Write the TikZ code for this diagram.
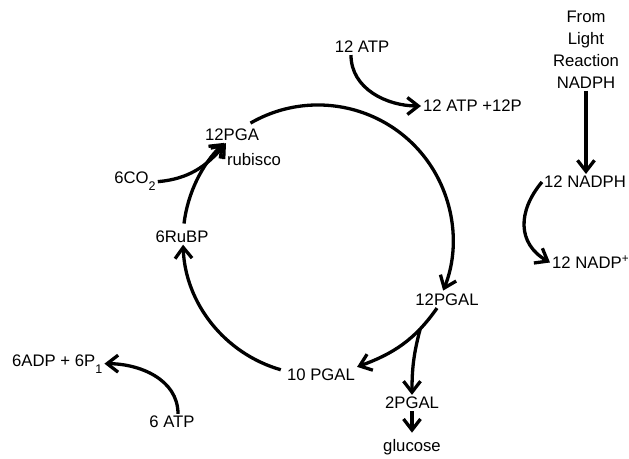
\documentclass[tikz,border=0pt]{standalone}
\usepackage{fontspec}
\setmainfont{Liberation Sans}
\usepackage{tikz}
\usetikzlibrary{arrows.meta,calc}
\newcommand{\lowsub}[1]{\raisebox{-7pt}{\fontsize{12.5}{12.5}\selectfont #1}}
\tikzset{
  lbl/.style={inner sep=2pt,font=\fontsize{16.7}{22}\selectfont},
  flow/.style={-{Straight Barb[length=11pt,width=17pt]},line width=3.3pt},
}

\begin{document}
\begin{tikzpicture}[x=1pt,y=1pt]
  \useasboundingbox (0,0) rectangle (629,458);
  \coordinate (C) at (318,218);
  % cycle
  \node[lbl] (pga) at (232,323) {12PGA};
  \node[lbl] (rub) at (254,298) {rubisco};
  \node[lbl,anchor=base] (co2) at (135,274) {6CO\lowsub{2}};
  \node[lbl] (rubp) at (182,221) {6RuBP};
  \node[lbl] (pgal12) at (447,158) {12PGAL};
  \node[lbl] (pgal10) at (321,83) {10 PGAL};
  \node[lbl] (pgal2) at (412,55) {2PGAL};
  \node[lbl,anchor=base] (gluc) at (412,7) {glucose};
  % energy
  \node[lbl] (atp12) at (362,411) {12 ATP};
  \node[lbl,anchor=west] (atpout) at (421,352) {12 ATP +12P};
  \node[lbl,align=center] (light) at (586,408) {From\\Light\\Reaction\\NADPH};
  \node[lbl] (nadph) at (585,276) {12 NADPH};
  \node[lbl,anchor=base west] (nadpp) at (550,189) {12 NADP\textsuperscript{+}};
  \node[lbl,anchor=base west] (adp) at (10,92) {6ADP + 6P\lowsub{1}};
  \node[lbl] (atp6) at (172,36) {6 ATP};
  \coordinate (pgatip) at ([xshift=-6pt]pga.south);

  \draw[flow] ($(C)+(120:135)$) arc[start angle=120,end angle=-22,radius=135];
  \draw[flow] ($(C)+(254:135)$) arc[start angle=254,end angle=182,radius=135];
  \draw[flow] ($(C)+(173:135)$) arc[start angle=173,end angle=134,radius=135];
  \draw[flow] ([xshift=-10pt]pgal12.south) to[out=235,in=20]
    coordinate[pos=0.25] (br) (pgal10.north east);
  \draw[flow] (br) to[out=255,in=90] (pgal2.north);
  \draw[flow,shorten >=4pt] (pgal2.south) -- (gluc.north);
  \draw[flow] (co2.east) to[out=5,in=230] (pgatip);

  \draw[flow] ([xshift=-11pt]atp12.south) to[out=270,in=180] (atpout.west);
  \draw[flow] (light.south) -- (light.south |- nadph.north);
  \draw[flow] (nadph.west) to[out=230,in=150,looseness=1.2] (nadpp.west);
  \draw[flow] ([xshift=6pt]atp6.north) to[out=90,in=0] (adp.east);
\end{tikzpicture}
\end{document}
